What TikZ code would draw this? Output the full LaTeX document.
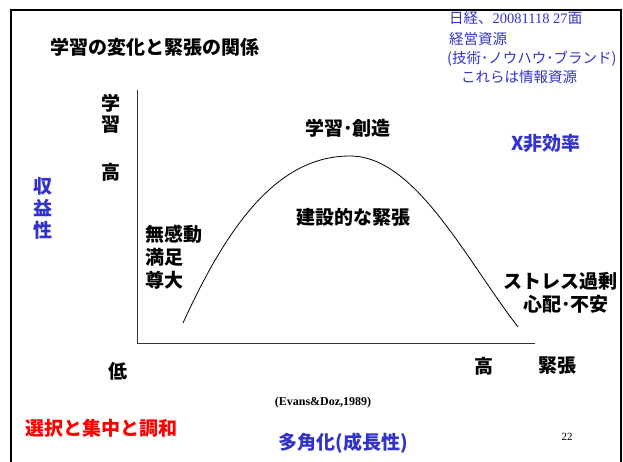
\documentclass[tikz,border=0pt]{standalone}
\usepackage{fontspec}
\setmainfont{Liberation Serif}
\newfontfamily\jp{Noto Sans CJK JP}
\definecolor{myblue}{RGB}{51,51,204}
\definecolor{myred}{RGB}{255,0,0}
\begin{document}
\begin{tikzpicture}[x=1pt,y=-1pt,
  lab/.style={font=\jp\bfseries\fontsize{19}{21}\selectfont, inner sep=0pt, text=black},
  blab/.style={lab, text=myblue},
  note/.style={font=\jp\fontsize{14.5}{16}\selectfont, inner sep=0pt, text=myblue, anchor=west},
  axis/.style={draw=black!80, line width=0.8pt},
]
\useasboundingbox (0,0) rectangle (623,462);
\fill[white] (0,0) rectangle (623,462);
% frame
\draw[line width=2.4pt] (11,480) -- (11,10) -- (621,10) -- (621,480);
% title
\node[lab, anchor=west] (title) at (50,47) {学習の変化と緊張の関係};
% top-right notes
\node[note] (n1) at (449,18.5) {日経、{\rmfamily 20081118 27}面};
\node[note] (n2) at (449,39.5) {経営資源};
\node[note] (n3) at (447,59) {(技術･ノウハウ･ブランド)};
\node[note] (n4) at (461,77.5) {これらは情報資源};
% axes
\coordinate (top) at (137,90);
\coordinate (org) at (137,343);
\coordinate (right) at (535,343);
\draw[axis] (top) -- (org) -- (right);
% curve
\coordinate (cs) at (183,323);
\coordinate (cp) at (350,156);
\coordinate (ce) at (518,327);
\draw[line width=0.8pt] (cs) .. controls (230,220) and (280,156) .. (cp)
  .. controls (415,156) and (465,258) .. (ce);
% labels
\node[lab] (g1) at (111,103) {学};
\node[lab] (g2) at (111,125) {習};
\node[lab] (hi1) at (111,172) {高};
\node[lab] (peak) at (348,128) {学習･創造};
\node[blab] (xin) at (546,143) {X非効率};
\node[blab] (s1) at (43,186) {収};
\node[blab] (s2) at (43,208) {益};
\node[blab] (s3) at (43,230) {性};
\node[lab, anchor=west] (m1) at (145,234) {無感動};
\node[lab, anchor=west] (m2) at (145,257) {満足};
\node[lab, anchor=west] (m3) at (145,280) {尊大};
\node[lab] (ken) at (353,217) {建設的な緊張};
\node[lab] (st1) at (560,281) {ストレス過剰};
\node[lab] (st2) at (566,304) {心配･不安};
\node[lab] (low) at (118,371) {低};
\node[lab] (hi2) at (484,366) {高};
\node[lab] (kin) at (557,366) {緊張};
\node[font=\bfseries\fontsize{12}{14}\selectfont, inner sep=0pt] (src) at (323,403) {(Evans\&Doz,1989)};
\node[lab, text=myred, anchor=west] (sel) at (25,428) {選択と集中と調和};
\node[blab] (div) at (343,443) {多角化(成長性)};
\node[font=\fontsize{11}{13}\selectfont, inner sep=0pt] (pg) at (567,437) {22};
\end{tikzpicture}
\end{document}
